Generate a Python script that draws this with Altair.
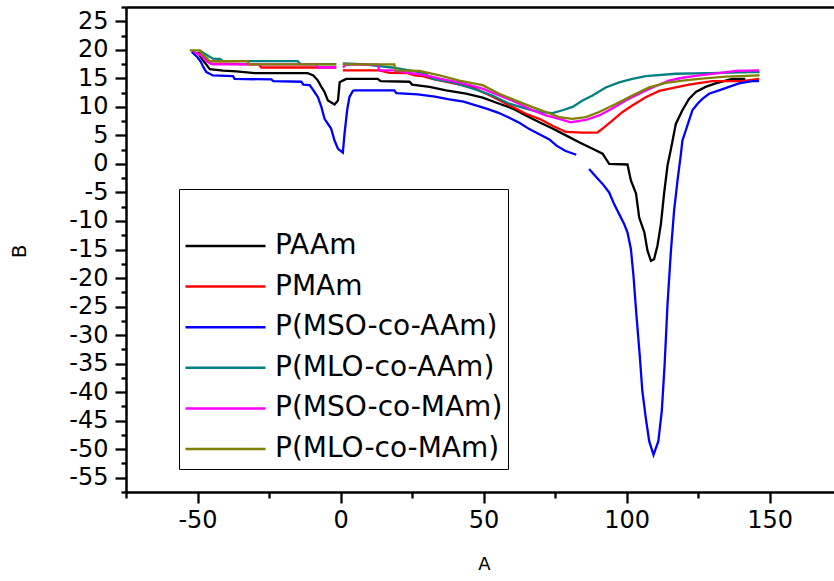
import altair as alt
import pandas as pd

names = ["PAAm", "PMAm", "P(MSO-co-AAm)", "P(MLO-co-AAm)", "P(MSO-co-MAm)", "P(MLO-co-MAm)"]
colors = ["#000000", "#FF0000", "#0000FF", "#008080", "#FF00FF", "#808000"]

paam_x = [-50.0, -48.1, -46.9, -45.7, -41.0, -36.4, -30.0, -11.5, -9.5, -7.9, -6.7, -5.6, -4.4, -2.1, -0.9, -0.3, 0.8, 2.0, 13.0, 14.0, 24.1, 25.0, 31.1, 36.9, 43.9, 49.7, 55.5, 60.2, 64.8, 69.5, 74.1, 78.8, 83.4, 88.1, 91.6, 93.9, 100.3, 101.5, 103.3, 104.4, 106.2, 107.3, 108.5, 109.6, 110.8, 112.0, 113.1, 114.3, 115.5, 117.2, 119.5, 121.8, 124.2, 127.6, 131.1, 136.9, 141.5]
paam_y = [19.6, 18.15, 17.4, 16.6, 16.35, 16.2, 15.9, 15.9, 15.5, 14.6, 13.5, 12.6, 11.1, 10.4, 11.1, 14.3, 14.6, 14.9, 14.9, 14.5, 14.4, 13.9, 13.5, 12.9, 12.3, 11.6, 10.55, 9.7, 8.5, 7.3, 6.2, 5.0, 3.8, 2.65, 1.8, 0.0, -0.1, -2.9, -5.2, -9.4, -12.0, -15.2, -17.0, -16.7, -14.3, -10.5, -5.2, -0.3, 2.6, 7.0, 9.4, 11.4, 12.6, 13.5, 14.1, 14.9, 14.9]

pmam_x = [-49.5, -47.5, -45.5, -28.5, -27.7, -1.5, -0.3, 0.8, 13.6, 17.1, 23.5, 25.8, 28.7, 32.2, 46.2, 53.0, 60.2, 64.8, 69.5, 74.1, 78.8, 84.6, 89.8, 91.6, 95.0, 98.6, 102.0, 106.7, 111.4, 117.2, 121.8, 129.9, 140.4, 146.3]
pmam_y = [19.6, 18.6, 17.6, 17.45, 16.9, 16.9, None, 16.4, 16.4, 15.95, 15.9, 15.5, 15.4, 14.9, 13.4, 11.8, 9.96, 8.8, 7.9, 6.7, 5.6, 5.5, 5.5, 6.2, 7.6, 9.1, 10.25, 11.7, 12.8, 13.4, 13.9, 14.5, 14.5, 14.9]

mso_aam_x = [-52.0, -51.5, -50.0, -48.8, -48.0, -46.9, -44.6, -37.6, -37.0, -24.2, -23.5, -13.7, -13.0, -10.8, -10.2, -9.1, -7.9, -6.7, -5.6, -3.3, -2.1, -0.9, 0.8, 1.4, 2.3, 3.1, 4.3, 4.9, 18.8, 19.5, 27.0, 33.0, 38.0, 43.0, 47.0, 51.0, 55.0, 59.0, 62.5, 66.0, 69.5, 73.0, 75.5, 78.5, 82.4, 84.5, 86.9, 89.2, 91.6, 93.9, 95.6, 97.4, 99.1, 100.3, 101.5, 102.4, 103.4, 104.6, 105.5, 106.7, 107.9, 109.4, 111.1, 112.3, 113.3, 114.3, 115.5, 116.6, 117.8, 119.0, 119.5, 120.7, 121.8, 123.0, 124.8, 126.5, 128.8, 132.3, 135.8, 139.3, 144.0, 146.3]
mso_aam_y = [19.7, 19.4, 18.7, 17.85, 17.0, 16.1, 15.5, 15.4, 14.9, 14.8, 14.5, 14.4, 13.9, 13.8, 13.4, 12.6, 11.7, 10.0, 7.9, 6.2, 4.1, 2.65, 2.0, 5.3, 9.4, 11.7, 12.8, 12.9, 12.9, 12.4, 12.2, 11.8, 11.3, 10.9, 10.3, 9.7, 9.0, 8.1, 7.2, 6.1, 5.2, 4.3, 3.2, 2.3, 1.6, None, -0.9, -2.2, -3.5, -5.0, -7.0, -8.8, -10.5, -12.0, -14.9, -19.6, -26.3, -33.6, -39.8, -44.5, -48.6, -51.0, -48.6, -43.3, -35.1, -24.6, -15.2, -8.2, -2.9, 1.8, 4.1, 5.9, 7.6, 9.4, 10.55, 11.4, 12.3, 12.9, 13.5, 14.1, 14.5, 14.5]

mlo_aam_x = [-49.2, -47.5, -44.6, -42.2, -41.0, -15.0, -14.0, -1.5, -0.3, 0.8, 7.2, 18.0, 25.0, 29.3, 32.2, 39.2, 47.4, 53.1, 59.0, 64.8, 69.5, 74.1, 77.6, 81.1, 84.6, 88.1, 92.7, 97.4, 102.0, 106.7, 117.2, 128.8, 143.8, 146.5]
mlo_aam_y = [19.9, 19.3, 18.45, 18.4, 18.0, 18.0, 17.5, 17.5, None, 17.6, 17.5, 16.9, 16.3, 15.9, 14.9, 14.3, 13.0, 12.0, 10.55, 9.7, 9.1, 8.9, 9.4, 10.0, 11.1, 12.0, 13.4, 14.3, 14.9, 15.4, 15.8, 15.9, 16.1, 16.1]

mso_mam_x = [-51.5, -50.4, -48.7, -46.9, -44.6, -8.5, -7.9, -1.5, -0.3, 0.8, 2.0, 13.0, 13.6, 18.3, 23.5, 30.0, 35.0, 41.5, 49.6, 55.5, 61.3, 67.1, 71.8, 76.4, 80.5, 85.8, 90.4, 95.0, 99.7, 104.4, 109.1, 114.8, 119.5, 125.3, 132.3, 138.1, 146.3]
mso_mam_y = [19.8, 19.4, 19.0, 18.0, 17.45, 17.45, 16.9, 16.9, None, 16.9, 17.4, 17.4, 16.4, 16.4, 16.0, 15.5, 14.9, 14.3, 13.2, 12.0, 10.8, 9.4, 8.5, 7.9, 7.3, 7.7, 8.5, 9.7, 11.1, 12.3, 13.4, 14.6, 15.1, 15.5, 15.9, 16.3, 16.4]

mlo_mam_x = [-52.7, -49.2, -48.0, -46.5, -45.7, -32.4, -32.0, -1.5, -0.3, 0.8, 18.8, 19.2, 27.6, 34.6, 41.5, 49.6, 55.5, 61.3, 67.1, 71.8, 76.4, 81.0, 85.8, 90.4, 96.2, 102.0, 107.9, 113.7, 119.6, 125.3, 134.6, 146.5]
mlo_mam_y = [19.9, 19.9, 19.1, 18.4, 18.0, 18.0, 17.45, 17.45, None, 17.45, 17.45, 16.4, 16.3, 15.5, 14.6, 13.8, 12.3, 11.1, 9.96, 9.1, 8.2, 7.9, 8.2, 9.1, 10.5, 12.0, 13.4, 14.2, 14.6, 14.9, 15.3, 15.5]

x_ticks = [-75, -50, -25, 0, 25, 50, 75, 100, 125, 150]
y_ticks = [-57.5 + 2.5 * k for k in range(35)]

series = [
    (names[0], paam_x, paam_y),
    (names[1], pmam_x, pmam_y),
    (names[2], mso_aam_x, mso_aam_y),
    (names[3], mlo_aam_x, mlo_aam_y),
    (names[4], mso_mam_x, mso_mam_y),
    (names[5], mlo_mam_x, mlo_mam_y),
]
rows = []
for name, xs, ys in series:
    for i, (xv, yv) in enumerate(zip(xs, ys)):
        rows.append({"series": name, "A": xv, "B": yv, "i": i})
df = pd.DataFrame(rows)

FONT = "DejaVu Sans"

y_enc = alt.Y(
    "B:Q",
    scale=alt.Scale(domain=[-57.5, 27.5], nice=False, zero=False),
    axis=alt.Axis(
        values=y_ticks,
        labelExpr="datum.value % 5 === 0 ? format(datum.value, 'd') : ''",
        tickSize={"condition": {"test": "datum.value % 5 === 0", "value": 11}, "value": 5},
        labelPadding=7,
        labelFont=FONT, labelFontSize=24, labelColor="black",
        labelOverlap=False, labelFlush=False, labelBound=False,
        title="B", titleFont=FONT, titleFontSize=20, titleFontWeight="normal",
        titleColor="black", titleX=-107, titleY=244, titleAngle=270,
        titleAlign="center", titleBaseline="middle",
        domainColor="black", domainWidth=2.5, tickColor="black", tickWidth=2.3,
        grid=False,
    ),
)

x_scale = alt.Scale(domain=[-75, 172.5], nice=False, zero=False)

lines = alt.Chart(df).mark_line(strokeWidth=2.3, invalid="break-paths-show-domains").encode(
    x=alt.X(
        "A:Q",
        scale=x_scale,
        axis=alt.Axis(
            values=x_ticks,
            labelExpr="datum.value % 50 === 0 ? format(datum.value, 'd') : ''",
            tickSize={"condition": {"test": "datum.value % 50 === 0", "value": 11}, "value": 6},
            labelPadding=5,
            labelFont=FONT, labelFontSize=24, labelColor="black",
            labelOverlap=False, labelFlush=False, labelBound=False,
            title="A", titleFont=FONT, titleFontSize=18, titleFontWeight="normal",
            titleColor="black", titleX=358, titleY=72, titleAlign="center",
            titleBaseline="middle",
            domainColor="black", domainWidth=2.5, tickColor="black", tickWidth=2.3,
            grid=False,
        ),
    ),
    y=y_enc,
    color=alt.Color(
        "series:N",
        scale=alt.Scale(domain=names, range=colors),
        legend=alt.Legend(
            orient="none", legendX=53, legendY=182,
            title=" ", titleFontSize=20, titlePadding=17,
            strokeColor="black", fillColor="white",
            padding=5, symbolType="stroke", symbolSize=6400,
            symbolStrokeWidth=2.5, clipHeight=30, rowPadding=10.6,
            labelFont=FONT, labelFontSize=28, labelColor="black",
            labelOffset=8, labelLimit=0,
        ),
    ),
    order=alt.Order("i:Q"),
    detail="series:N",
)

top = alt.Chart(df).mark_line(opacity=0).encode(
    x=alt.X(
        "A:Q",
        scale=x_scale,
        axis=alt.Axis(orient="top", labels=False, ticks=False, title=None,
                      domainColor="black", domainWidth=2.5, grid=False),
    ),
    y=y_enc,
)

chart = alt.layer(lines, top).resolve_axis(x="independent").properties(
    width=708,
    height=485,
    autosize=alt.AutoSizeParams(type="none"),
    padding={"left": 126, "top": 7, "right": 0, "bottom": 89},
    background="white",
).configure_view(stroke=None).configure_legend(strokeWidth=2.5).configure(
    locale={"number": {"decimal": ".", "thousands": ",", "grouping": [3],
                       "currency": ["", ""], "minus": "-"}}
)

chart.save("out.html", embed_options={"renderer": "svg", "actions": False})
